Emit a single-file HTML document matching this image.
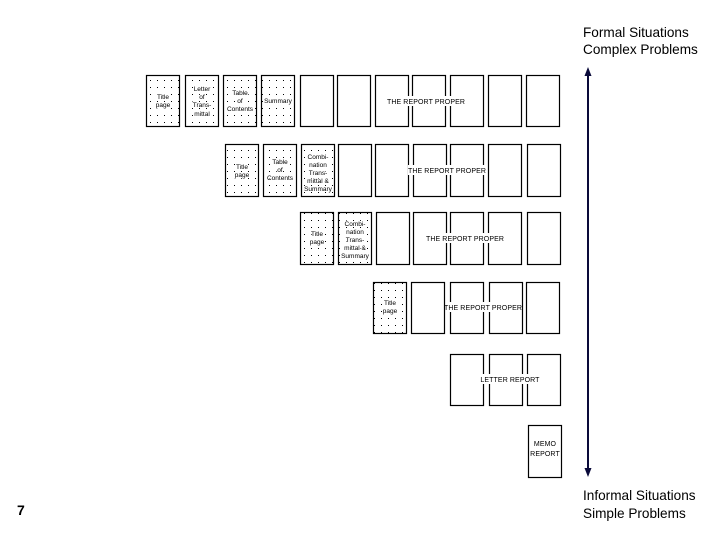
<!DOCTYPE html>
<html><head><style>
html,body{margin:0;padding:0;background:#fff;}
svg{display:block;}
text{font-family:"Liberation Sans",sans-serif;}
.s{font-size:6.5px;fill:#000;text-anchor:middle;stroke:#fff;stroke-width:2px;paint-order:stroke;}
.b{font-size:7px;fill:#000;text-anchor:middle;letter-spacing:0.1px;}
</style></head><body>
<svg width="720" height="540" xmlns="http://www.w3.org/2000/svg">
<defs>
<pattern id="d" width="7" height="7" patternUnits="userSpaceOnUse"><rect x="3" y="3" width="1" height="1" fill="#000"/></pattern>
</defs>
<g stroke="#000" stroke-width="1.2" fill="#fff">
<rect x="146.5" y="75.5" width="33" height="51" fill="url(#d)"/>
<rect x="185.5" y="75.5" width="33" height="51" fill="url(#d)"/>
<rect x="223.5" y="75.5" width="33" height="51" fill="url(#d)"/>
<rect x="261.5" y="75.5" width="33" height="51" fill="url(#d)"/>
<rect x="300.5" y="75.5" width="33" height="51"/>
<rect x="337.5" y="75.5" width="33" height="51"/>
<rect x="375.5" y="75.5" width="33" height="51"/>
<rect x="412.5" y="75.5" width="33" height="51"/>
<rect x="450.5" y="75.5" width="33" height="51"/>
<rect x="488.5" y="75.5" width="33" height="51"/>
<rect x="526.5" y="75.5" width="33" height="51"/>
<rect x="225.5" y="144.5" width="33" height="52" fill="url(#d)"/>
<rect x="263.5" y="144.5" width="33" height="52" fill="url(#d)"/>
<rect x="301.5" y="144.5" width="33" height="52" fill="url(#d)"/>
<rect x="338.5" y="144.5" width="33" height="52"/>
<rect x="375.5" y="144.5" width="33" height="52"/>
<rect x="413.5" y="144.5" width="33" height="52"/>
<rect x="450.5" y="144.5" width="33" height="52"/>
<rect x="488.5" y="144.5" width="33" height="52"/>
<rect x="527.5" y="144.5" width="33" height="52"/>
<rect x="300.5" y="212.5" width="33" height="52" fill="url(#d)"/>
<rect x="338.5" y="212.5" width="33" height="52" fill="url(#d)"/>
<rect x="376.5" y="212.5" width="33" height="52"/>
<rect x="413.5" y="212.5" width="33" height="52"/>
<rect x="450.5" y="212.5" width="33" height="52"/>
<rect x="488.5" y="212.5" width="33" height="52"/>
<rect x="527.5" y="212.5" width="33" height="52"/>
<rect x="373.5" y="282.5" width="33" height="51" fill="url(#d)"/>
<rect x="411.5" y="282.5" width="33" height="51"/>
<rect x="450.5" y="282.5" width="33" height="51"/>
<rect x="489.5" y="282.5" width="33" height="51"/>
<rect x="526.5" y="282.5" width="33" height="51"/>
<rect x="450.5" y="354.5" width="33" height="51"/>
<rect x="489.5" y="354.5" width="33" height="51"/>
<rect x="527.5" y="354.5" width="33" height="51"/>
<rect x="528.5" y="425.5" width="33" height="52"/>
</g>
<g fill="#fff">
<rect x="384" y="96" width="84" height="10"/>
<rect x="408" y="165" width="78" height="10"/>
<rect x="427" y="233" width="76" height="10"/>
<rect x="446" y="302" width="74" height="10"/>
<rect x="482" y="374" width="56" height="10"/>
</g>
<text class="b" x="426" y="104">THE REPORT PROPER</text>
<text class="b" x="447" y="173">THE REPORT PROPER</text>
<text class="b" x="465" y="241">THE REPORT PROPER</text>
<text class="b" x="483" y="310">THE REPORT PROPER</text>
<text class="b" x="510" y="382">LETTER REPORT</text>
<text class="b" x="545" y="446">MEMO</text>
<text class="b" x="545" y="456">REPORT</text>
<text class="s" x="163" y="99">Title</text><text class="s" x="163" y="107">page</text>
<text class="s" x="202" y="91">Letter</text><text class="s" x="202" y="99">of</text><text class="s" x="202" y="107">Trans-</text><text class="s" x="202" y="116">mittal</text>
<text class="s" x="240" y="95">Table</text><text class="s" x="240" y="103">of</text><text class="s" x="240" y="111">Contents</text>
<text class="s" x="278" y="103">Summary</text>
<text class="s" x="242" y="169">Title</text><text class="s" x="242" y="177">page</text>
<text class="s" x="280" y="164">Table</text><text class="s" x="280" y="172">of</text><text class="s" x="280" y="180">Contents</text>
<text class="s" x="318" y="159">Combi-</text><text class="s" x="318" y="167">nation</text><text class="s" x="318" y="175">Trans-</text><text class="s" x="318" y="183">mittal &amp;</text><text class="s" x="318" y="191">Summary</text>
<text class="s" x="317" y="236">Title</text><text class="s" x="317" y="244">page</text>
<text class="s" x="355" y="226">Combi-</text><text class="s" x="355" y="234">nation</text><text class="s" x="355" y="242">Trans-</text><text class="s" x="355" y="250">mittal &amp;</text><text class="s" x="355" y="258">Summary</text>
<text class="s" x="390" y="305">Title</text><text class="s" x="390" y="313">page</text>
<g stroke="#0a0a3a" stroke-width="2" fill="#0a0a3a">
<line x1="588" y1="74" x2="588" y2="470"/>
<polygon points="588,67 584.5,76 591.5,76" stroke="none"/>
<polygon points="588,477 584.5,468 591.5,468" stroke="none"/>
</g>
<text x="583" y="37" font-size="13.6">Formal Situations</text>
<text x="583" y="54" font-size="13.6">Complex Problems</text>
<text x="583" y="500" font-size="13.6">Informal Situations</text>
<text x="583" y="518" font-size="13.6">Simple Problems</text>
<text x="17" y="515" font-size="14" font-weight="bold">7</text>
</svg>
</body></html>
